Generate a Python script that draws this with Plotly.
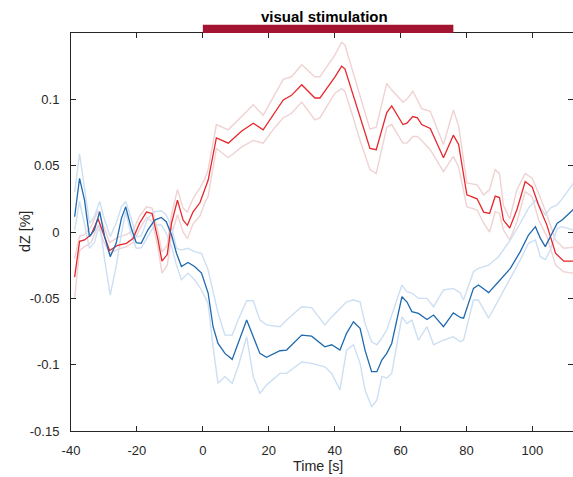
import plotly.graph_objects as go

# ---------------- data ----------------
red_t = [-38.9, -37.4, -35.9, -33.9, -31.8, -30.3, -28.3, -25.8, -23.2, -21.2, -19.2, -17.1, -15.4,
         -13.6, -12.4, -10.8, -9.5, -7.7, -6.0, -4.7, -3.0, -0.9, 0.6, 1.6, 4.1, 7.7, 11.7, 15.3,
         18.3, 21.9, 24.4, 26.9, 30.0, 34.0, 35.5, 40.1, 42.1, 43.1, 45.2, 47.7, 50.7, 52.6, 55.8,
         57.3, 60.7, 61.9, 63.7, 65.1, 66.4, 69.0, 73.0, 76.0, 77.6, 80.1, 83.2, 85.2, 87.0, 88.7,
         90.0, 91.2, 93.1, 95.3, 97.8, 99.9, 101.9, 104.4, 107.0, 109.5, 112.4]
red_mean = [-0.034, -0.007, -0.006, -0.002, 0.010, -0.001, -0.014, -0.010, -0.0085, -0.005, 0.0066,
            0.015, 0.014, -0.006, -0.022, -0.017, 0.0066, 0.024, 0.009, 0.005, 0.015, 0.022, 0.032,
            0.039, 0.071, 0.067, 0.076, 0.082, 0.077, 0.090, 0.0995, 0.103, 0.111, 0.101, 0.101,
            0.117, 0.125, 0.123, 0.106, 0.086, 0.063, 0.062, 0.090, 0.095, 0.081, 0.082, 0.087,
            0.086, 0.081, 0.078, 0.056, 0.073, 0.066, 0.028, 0.025, 0.015, 0.014, 0.027, 0.026,
            0.009, 0.003, 0.017, 0.038, 0.034, 0.020, 0.005, -0.016, -0.022, -0.022]
red_upper = [-0.020, -0.003, -0.002, 0.004, 0.016, 0.006, -0.008, -0.004, -0.002, 0.001, 0.012,
             0.019, 0.018, 0.000, -0.015, -0.010, 0.013, 0.032, 0.018, 0.015, 0.025, 0.033, 0.040,
             0.047, 0.081, 0.077, 0.087, 0.096, 0.088, 0.1046, 0.115, 0.117, 0.126, 0.117, 0.117,
             0.1335, 0.143, 0.141, 0.123, 0.102, 0.0775, 0.079, 0.112, 0.107, 0.098, 0.100, 0.106,
             0.0995, 0.093, 0.091, 0.066, 0.092, 0.080, 0.037, 0.0355, 0.028, 0.032, 0.047, 0.044,
             0.020, 0.010, 0.032, 0.044, 0.0405, 0.029, 0.0128, -0.006, -0.0123, -0.0115]
red_lower = [-0.050, -0.014, -0.011, -0.008, 0.005, -0.006, -0.016, -0.013, -0.011, -0.008, 0.002,
             0.011, 0.008, -0.012, -0.031, -0.025, -0.002, 0.013, 0.000, -0.005, 0.006, 0.012, 0.022,
             0.027, 0.063, 0.056, 0.064, 0.069, 0.067, 0.079, 0.086, 0.0895, 0.098, 0.0845, 0.086,
             0.1046, 0.108, 0.106, 0.0895, 0.069, 0.047, 0.044, 0.079, 0.081, 0.067, 0.067, 0.072,
             0.072, 0.069, 0.062, 0.0455, 0.057, 0.049, 0.019, 0.0166, 0.0066, 0.000, 0.0153, 0.014,
             0.0015, -0.006, 0.0078, 0.0304, 0.0266, 0.009, -0.0035, -0.025, -0.030, -0.031]

blue_t = [-38.9, -37.4, -35.9, -34.4, -32.9, -31.3, -29.8, -28.1, -26.3, -24.7, -23.4, -21.7, -20.2,
          -18.7, -16.7, -14.6, -12.6, -11.1, -9.5, -8.0, -6.5, -4.5, -2.5, -0.4, 1.6, 3.1, 4.6, 6.7,
          8.9, 10.7, 13.3, 15.3, 17.3, 19.3, 23.4, 25.4, 30.0, 33.0, 37.0, 39.1, 41.6, 43.6, 45.7,
          47.7, 49.2, 51.2, 52.8, 54.3, 55.8, 57.3, 60.4, 61.9, 63.4, 65.4, 68.0, 70.0, 73.0, 76.0,
          78.1, 79.1, 82.1, 83.6, 86.7, 89.7, 93.3, 96.3, 98.8, 100.9, 102.4, 103.9, 105.4, 107.5,
          109.0, 112.4]
blue_mean = [0.0115, 0.0405, 0.024, -0.0035, 0.0015, 0.0153, -0.0035, -0.0186, -0.0085, 0.0103, 0.019,
             0.0028, -0.008, -0.0085, 0.0015, 0.009, 0.011, 0.0078, -0.0023, -0.016, -0.026, -0.023,
             -0.026, -0.031, -0.046, -0.0714, -0.084, -0.0915, -0.096, -0.084, -0.0664, -0.079,
             -0.0915, -0.0945, -0.0895, -0.089, -0.0777, -0.0785, -0.0865, -0.085, -0.089, -0.0764,
             -0.0676, -0.0726, -0.089, -0.1053, -0.1053, -0.0965, -0.0915, -0.084, -0.0488, -0.0526,
             -0.060, -0.0614, -0.066, -0.0626, -0.0714, -0.061, -0.0644, -0.065, -0.0425, -0.040,
             -0.0457, -0.0375, -0.0274, -0.0148, -0.0023, 0.004, -0.0048, -0.011, -0.0035, 0.0066,
             0.009, 0.017]
blue_upper = [0.030, 0.059, 0.033, 0.0066, 0.0115, 0.023, 0.009, -0.0035, 0.0066, 0.019, 0.023,
              0.010, -0.0035, -0.003, 0.0103, 0.0153, 0.016, 0.0128, 0.004, -0.0123, -0.0136, -0.0123,
              -0.0148, -0.016, -0.0287, -0.046, -0.061, -0.0777, -0.0777, -0.0664, -0.0518, -0.0518,
              -0.0664, -0.070, -0.0714, -0.0664, -0.0563, -0.057, -0.070, -0.064, -0.0576, -0.0526,
              -0.0513, -0.0526, -0.0689, -0.0827, -0.085, -0.080, -0.0739, -0.0626, -0.040, -0.045,
              -0.046, -0.050, -0.050, -0.0563, -0.0437, -0.0425, -0.046, -0.0513, -0.030, -0.0274,
              -0.025, -0.0186, -0.006, 0.0066, 0.018, 0.024, 0.019, 0.0128, 0.018, 0.0204, 0.025, 0.0367]
blue_lower = [0.0015, 0.023, 0.006, -0.0123, -0.008, 0.0066, -0.021, -0.0475, -0.026, -0.001, 0.0153,
              -0.0023, -0.0123, -0.012, -0.0035, 0.0053, 0.0053, -0.001, -0.011, -0.025, -0.036, -0.031,
              -0.036, -0.0437, -0.054, -0.0865, -0.114, -0.109, -0.114, -0.1016, -0.079, -0.109,
              -0.1217, -0.1154, -0.1066, -0.1066, -0.098, -0.099, -0.1016, -0.1066, -0.119, -0.089,
              -0.085, -0.099, -0.119, -0.1317, -0.1267, -0.109, -0.110, -0.1066, -0.064, -0.069,
              -0.0664, -0.0815, -0.0714, -0.085, -0.0815, -0.079, -0.0827, -0.0815, -0.0513, -0.0513,
              -0.065, -0.0513, -0.0337, -0.021, -0.0085, -0.006, -0.0186, -0.021, -0.0136, 0.0028,
              0.004, 0.0015]

x_ticks = [-40, -20, 0, 20, 40, 60, 80, 100]
x_ticktext = ["-40", "-20", "0", "20", "40", "60", "80", "100"]
y_ticks = [-0.15, -0.1, -0.05, 0, 0.05, 0.1]
y_ticktext = ["-0.15", "-0.1", "-0.05", "0", "0.05", "0.1"]
x_range = [-40, 112.3]
y_range = [-0.15, 0.15]
stim_start, stim_end = 0, 76
stim_label = "visual stimulation"
x_title = "Time [s]"
y_title = "dZ [%]"

# ---------------- styles ----------------
RED = "#E8262B"
RED_CI = "#F0D2D2"
BLUE = "#1F69AE"
BLUE_CI = "#CCDFF3"
AX = "#262626"
FONT = "Liberation Sans, Arial, Helvetica, sans-serif"
W, H = 573, 477
ML, MR, MT, MB = 71, 0, 33, 46

fig = go.Figure()
for t, y, c in [(red_t, red_upper, RED_CI), (red_t, red_lower, RED_CI),
                (blue_t, blue_upper, BLUE_CI), (blue_t, blue_lower, BLUE_CI)]:
    fig.add_trace(go.Scatter(x=t, y=y, mode="lines", line=dict(color=c, width=1.4),
                             hoverinfo="skip", showlegend=False))
fig.add_trace(go.Scatter(x=red_t, y=red_mean, mode="lines", line=dict(color=RED, width=1.3),
                         showlegend=False))
fig.add_trace(go.Scatter(x=blue_t, y=blue_mean, mode="lines", line=dict(color=BLUE, width=1.3),
                         showlegend=False))

# stimulation bar above the axes (paper coords derived from the axis range)
span = x_range[1] - x_range[0]
p0 = (stim_start - x_range[0]) / span
p1 = (stim_end - x_range[0]) / span
fig.add_shape(type="rect", xref="paper", yref="paper", x0=p0, x1=p1, y0=1.0, y1=1.021,
              fillcolor="#A2142F", line=dict(width=0), layer="above")
fig.add_annotation(text="<b>" + stim_label + "</b>", xref="paper", yref="paper",
                   x=(p0 + p1) / 2, y=1.0415, xanchor="center", yanchor="middle", xshift=-4,
                   showarrow=False, font=dict(family=FONT, size=15, color="#000000"))

# axis titles as annotations for exact placement
plot_w = W - ML - MR
plot_h = H - MT - MB
fig.add_annotation(text=y_title, xref="paper", yref="paper", x=(25 - ML) / plot_w, y=0.5,
                   xanchor="center", yanchor="middle", textangle=-90, showarrow=False,
                   font=dict(family=FONT, size=14.3, color=AX))
fig.add_annotation(text=x_title, xref="paper", yref="paper", x=0.5 - 4 / plot_w,
                   y=-(466 - (H - MB)) / plot_h, xanchor="center", yanchor="middle",
                   showarrow=False, font=dict(family=FONT, size=14.3, color=AX))

axis_common = dict(showline=True, linecolor=AX, linewidth=1, mirror="ticks", ticks="inside",
                   ticklen=5, tickcolor=AX, tickwidth=1, showgrid=False, zeroline=False,
                   tickfont=dict(family=FONT, size=13, color=AX))

fig.update_layout(
    width=W, height=H,
    margin=dict(l=ML, r=MR, t=MT, b=MB),
    paper_bgcolor="white", plot_bgcolor="white",
    font=dict(family=FONT, color=AX),
    xaxis=dict(range=x_range, tickvals=x_ticks, ticktext=x_ticktext, ticklabelstandoff=7,
               **axis_common),
    yaxis=dict(range=y_range, tickvals=y_ticks, ticktext=y_ticktext, ticklabelstandoff=8,
               **axis_common),
)

fig.write_html("out.html")
